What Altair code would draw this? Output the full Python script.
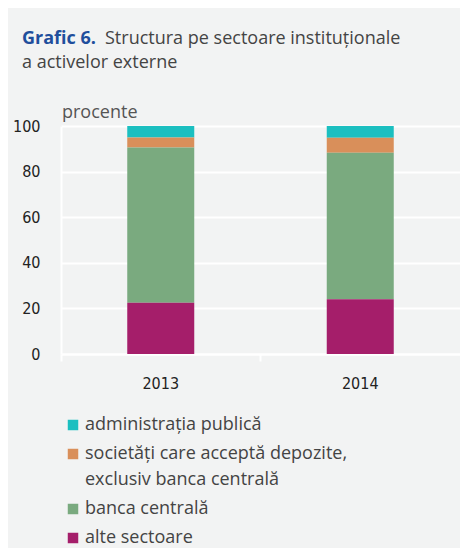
import altair as alt
import pandas as pd

years = ["2013", "2014"]
sectors = [
    "administrația publică",
    "societăți care acceptă depozite, exclusiv banca centrală",
    "banca centrală",
    "alte sectoare",
]
admin = [5.0, 5.1]
societati = [4.4, 6.6]
banca = [68.1, 64.3]
alte = [22.5, 24.0]
colors = ["#1bbfc0", "#d98f5a", "#7aaa7f", "#a51e6a"]
stack_order = [3, 2, 1, 0]

rows = []
for i, y in enumerate(years):
    for s, vals, o in zip(sectors, [admin, societati, banca, alte], stack_order):
        rows.append({"an": y, "sector": s, "valoare": vals[i], "ord": o})
df = pd.DataFrame(rows)

FONT = "Open Sans"
COND = "DejaVu Sans Condensed, DejaVu Sans"

bars = alt.Chart(df).mark_bar(size=67).encode(
    x=alt.X("an:N", title=None,
            scale=alt.Scale(paddingInner=0, paddingOuter=0),
            axis=alt.Axis(labelAngle=0, domainColor="white", domainWidth=2,
                          tickColor="white", tickWidth=2, tickSize=7,
                          bandPosition=0, labelFontSize=16, labelFont=COND,
                          labelColor="#222", labelPadding=14, grid=False)),
    y=alt.Y("valoare:Q", title=None, stack="zero",
            scale=alt.Scale(domain=[0, 100]),
            axis=alt.Axis(values=[0, 20, 40, 60, 80, 100], gridColor="white",
                          gridWidth=2, domainColor="white", domainWidth=2,
                          ticks=False, labelFontSize=16, labelFont=COND,
                          labelColor="#222", labelPadding=21)),
    color=alt.Color("sector:N",
                    scale=alt.Scale(domain=sectors, range=colors),
                    legend=alt.Legend(
                        title=None, orient="none", legendX=3, legendY=290,
                        symbolType="square", symbolSize=110, symbolStrokeWidth=0,
                        symbolOpacity=1,
                        labelFont=FONT, labelFontSize=18, labelColor="#444",
                        labelLimit=400, rowPadding=11, labelOffset=3,
                        labelExpr="indexof(datum.label, ', ') > 0 ? [slice(datum.label, 0, indexof(datum.label, ', ') + 1), slice(datum.label, indexof(datum.label, ', ') + 2)] : datum.label")),
    order=alt.Order("ord:Q", sort="ascending"),
)

title_df = pd.DataFrame({"a": [0]})
t1 = alt.Chart(title_df).mark_text(
    text="Grafic 6.", font=FONT, fontSize=18, fontWeight="bold",
    color="#1f4e9c", align="left", baseline="alphabetic"
).encode(x=alt.value(-39), y=alt.value(-82))
t2 = alt.Chart(title_df).mark_text(
    text="Structura pe sectoare instituționale", font=FONT, fontSize=18,
    color="#444", align="left", baseline="alphabetic"
).encode(x=alt.value(44), y=alt.value(-82))
t3 = alt.Chart(title_df).mark_text(
    text="a activelor externe", font=FONT, fontSize=18,
    color="#444", align="left", baseline="alphabetic"
).encode(x=alt.value(-39), y=alt.value(-58))
t4 = alt.Chart(title_df).mark_text(
    text="procente", font=FONT, fontSize=18,
    color="#555", align="left", baseline="alphabetic"
).encode(x=alt.value(1), y=alt.value(-8))

chart = alt.layer(bars, t1, t2, t3, t4).properties(
    width=399, height=228,
    background="#f2f3f3",
    padding={"left": 53, "top": 118, "right": 0, "bottom": 194},
    autosize=alt.AutoSizeParams(type="none"),
).configure_view(stroke=None).configure(
    style={"guide-label": {"lineHeight": 26}}
)

chart.save("out.html", embed_options={"renderer": "svg", "actions": False})
